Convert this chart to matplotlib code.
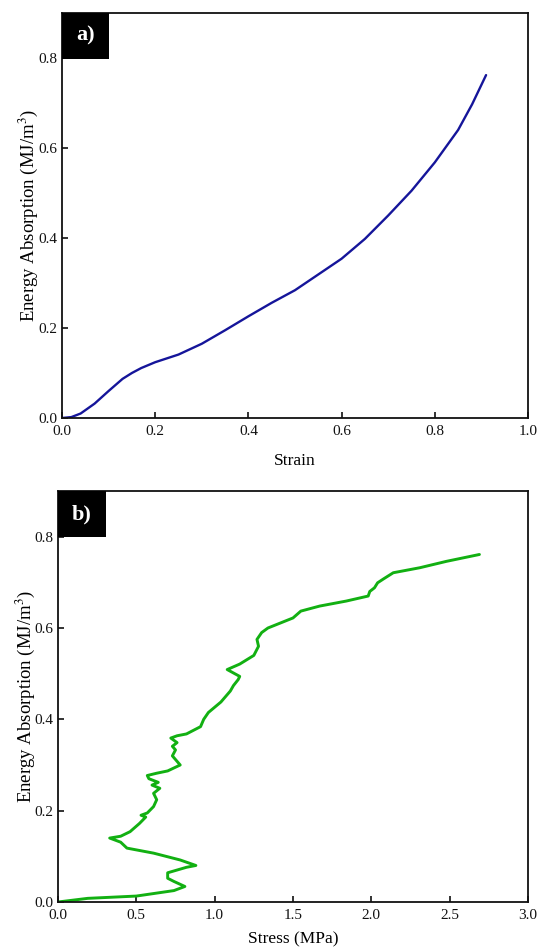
import matplotlib
matplotlib.use("Agg")
import matplotlib.pyplot as plt
from matplotlib.patches import Rectangle

# ---- data: panel a (strain vs energy absorption) ----
strain_a = [0.0, 0.02, 0.04, 0.07, 0.10, 0.13, 0.15, 0.17, 0.20, 0.25, 0.30,
            0.35, 0.40, 0.45, 0.50, 0.55, 0.60, 0.65, 0.70, 0.75, 0.80, 0.85,
            0.88, 0.91]
energy_a = [0.0, 0.002, 0.010, 0.032, 0.060, 0.087, 0.100, 0.111, 0.124, 0.141,
            0.165, 0.195, 0.226, 0.256, 0.284, 0.319, 0.354, 0.398, 0.450, 0.505,
            0.568, 0.640, 0.697, 0.762]

# ---- data: panel b (stress vs energy absorption) ----
stress_b = [0.00, 0.19, 0.50, 0.74, 0.81, 0.74, 0.70, 0.70, 0.82, 0.88,
            0.78, 0.61, 0.44, 0.40, 0.33, 0.40, 0.46, 0.52, 0.56, 0.53,
            0.57, 0.61, 0.63, 0.61, 0.65, 0.60, 0.64, 0.58, 0.57, 0.63,
            0.70, 0.78, 0.73, 0.75, 0.73, 0.76, 0.72, 0.76, 0.82, 0.91,
            0.93, 0.96, 1.04, 1.10, 1.12, 1.15, 1.16, 1.08, 1.16, 1.25,
            1.28, 1.27, 1.30, 1.34, 1.42, 1.50, 1.55, 1.67, 1.84, 1.98,
            1.99, 2.02, 2.04, 2.08, 2.14, 2.31, 2.48, 2.69]
energy_b = [0.000, 0.008, 0.013, 0.025, 0.034, 0.045, 0.052, 0.064, 0.076, 0.080,
            0.092, 0.107, 0.118, 0.131, 0.140, 0.144, 0.154, 0.172, 0.186, 0.190,
            0.195, 0.209, 0.224, 0.238, 0.249, 0.256, 0.262, 0.270, 0.277, 0.282,
            0.287, 0.300, 0.320, 0.333, 0.341, 0.349, 0.359, 0.364, 0.368, 0.384,
            0.400, 0.415, 0.438, 0.462, 0.474, 0.487, 0.494, 0.509, 0.521, 0.540,
            0.560, 0.575, 0.590, 0.600, 0.611, 0.622, 0.637, 0.648, 0.659, 0.670,
            0.680, 0.688, 0.699, 0.708, 0.721, 0.732, 0.746, 0.761]

xticks_a = [0.0, 0.2, 0.4, 0.6, 0.8, 1.0]
xticks_b = [0.0, 0.5, 1.0, 1.5, 2.0, 2.5, 3.0]
yticks = [0.0, 0.2, 0.4, 0.6, 0.8]

plt.rcParams['font.family'] = ['Liberation Serif', 'DejaVu Serif']
plt.rcParams['mathtext.fontset'] = 'stix'

W, H = 539, 952
fig = plt.figure(figsize=(W / 100, H / 100), dpi=100)


def px_axes(l, t, r, b):
    return fig.add_axes([l / W, 1 - b / H, (r - l) / W, (b - t) / H])


def style(ax, xticks, xlim, xlabel, tag, tagw, tagh, ylab_x, xlab_y):
    ax.set_xlim(*xlim)
    ax.set_ylim(0, 0.9)
    ax.set_xticks(xticks)
    ax.set_xticklabels([f"{v:.1f}" for v in xticks])
    ax.set_yticks(yticks)
    ax.set_yticklabels([f"{v:.1f}" for v in yticks])
    for s in ax.spines.values():
        s.set_linewidth(1.3)
        s.set_color('#111111')
    ax.tick_params(direction='in', length=4, width=1.2, labelsize=11,
                   top=False, right=False, colors='#111111')
    ax.tick_params(axis='x', pad=5)
    ax.tick_params(axis='y', pad=3)
    xl = ax.set_xlabel(xlabel, fontsize=12.5)
    yl = ax.set_ylabel(r'Energy Absorption (MJ/m$^{3}$)', fontsize=13.5)
    xl.set_va('center')
    yl.set_va('center')
    ax.yaxis.set_label_coords(ylab_x, 0.5)
    ax.xaxis.set_label_coords(0.5, xlab_y)
    ax.add_patch(Rectangle((0, 1 - tagh), tagw, tagh, transform=ax.transAxes,
                           facecolor='black', edgecolor='none', zorder=5,
                           clip_on=False))
    ax.text(tagw / 2, 1 - tagh / 2, tag, transform=ax.transAxes, color='white',
            fontsize=16, fontweight='bold', ha='center', va='center', zorder=6)


ax1 = px_axes(62, 13, 528, 418)
ax1.plot(strain_a, energy_a, color='#15159a', lw=1.7, solid_joinstyle='round',
         solid_capstyle='round')
style(ax1, xticks_a, (0, 1.0), 'Strain', 'a)', 0.101, 0.113,
      (28 - 62) / 466, -(461 - 418) / 405)

ax2 = px_axes(58, 491, 528, 902)
ax2.plot(stress_b, energy_b, color='#12b012', lw=2.1, solid_joinstyle='round',
         solid_capstyle='round')
style(ax2, xticks_b, (0, 3.0), 'Stress (MPa)', 'b)', 0.102, 0.112,
      (25 - 58) / 470, -(939 - 902) / 411)

fig.savefig('out.png', dpi=100)
